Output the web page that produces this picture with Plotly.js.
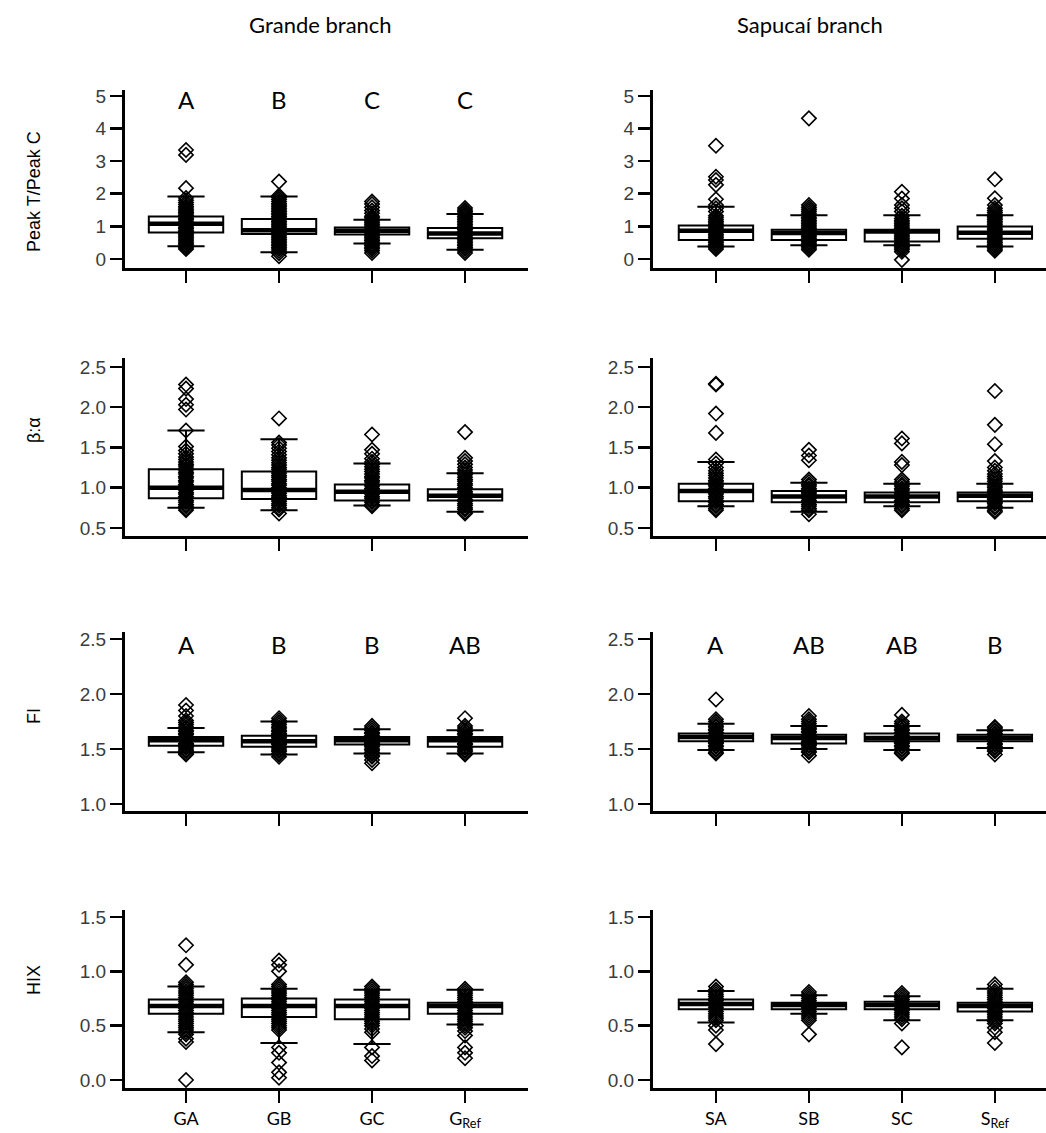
<!DOCTYPE html>
<html>
<head>
<meta charset="utf-8">
<script src="https://cdn.plot.ly/plotly-3.0.1.min.js"></script>
<style>html,body{margin:0;padding:0;background:#fff;}#chart{width:1046px;height:1133px;}</style>
</head>
<body>
<div id="chart"></div>
<script>
// ---------- categories ----------
const groupsG = ['GA', 'GB', 'GC', 'G<sub>Ref</sub>'];
const groupsS = ['SA', 'SB', 'SC', 'S<sub>Ref</sub>'];
const branchTitles = ['Grande branch', 'Sapucaí branch'];
const rowTitles = ['Peak T/Peak C', 'β:α', 'FI', 'HIX'];

// ---------- significance letters ----------
const lettersPeakG = ['A', 'B', 'C', 'C'];
const lettersBetaG = ['A', 'B', 'BC', 'C'];
const lettersFIG = ['A', 'B', 'B', 'AB'];
const lettersFIS = ['A', 'AB', 'AB', 'B'];

// ---------- Peak T / Peak C : Grande ----------
const peakG_q1 = [0.81, 0.76, 0.75, 0.63];
const peakG_med = [1.08, 0.88, 0.86, 0.78];
const peakG_q3 = [1.30, 1.22, 0.96, 0.95];
const peakG_lo = [0.39, 0.20, 0.47, 0.28];
const peakG_hi = [1.91, 1.91, 1.20, 1.38];
const peakG_GA = [0.30,0.34,0.39,0.43,0.48,0.52,0.57,0.61,0.66,0.70,0.75,0.79,0.84,0.88,0.93,0.97,1.02,1.06,1.11,1.15,1.20,1.24,1.29,1.33,1.38,1.42,1.47,1.51,1.56,1.61,1.67,1.73,1.80,1.87,2.17,3.19,3.34];
const peakG_GB = [0.08,0.17,0.24,0.30,0.35,0.40,0.45,0.50,0.55,0.60,0.65,0.70,0.75,0.80,0.85,0.90,0.95,1.00,1.05,1.10,1.15,1.20,1.25,1.30,1.35,1.40,1.45,1.50,1.55,1.60,1.65,1.70,1.76,1.82,1.88,1.94,2.37];
const peakG_GC = [0.18,0.25,0.31,0.36,0.41,0.46,0.51,0.56,0.61,0.66,0.71,0.76,0.81,0.86,0.91,0.96,1.01,1.06,1.11,1.16,1.21,1.26,1.31,1.40,1.48,1.58,1.68,1.76];
const peakG_GRef = [0.18,0.24,0.30,0.35,0.40,0.45,0.50,0.55,0.60,0.65,0.70,0.75,0.80,0.85,0.90,0.95,1.00,1.05,1.10,1.15,1.20,1.25,1.30,1.35,1.40,1.45,1.50,1.56];

// ---------- Peak T / Peak C : Sapucaí ----------
const peakS_q1 = [0.58, 0.58, 0.53, 0.62];
const peakS_med = [0.86, 0.79, 0.84, 0.80];
const peakS_q3 = [1.02, 0.89, 0.89, 0.99];
const peakS_lo = [0.38, 0.42, 0.42, 0.38];
const peakS_hi = [1.60, 1.34, 1.34, 1.34];
const peakS_SA = [0.30,0.35,0.40,0.45,0.50,0.55,0.60,0.65,0.70,0.75,0.80,0.85,0.90,0.95,1.00,1.05,1.10,1.15,1.20,1.26,1.32,1.45,1.55,1.65,1.83,2.27,2.42,2.52,3.47];
const peakS_SB = [0.28,0.33,0.38,0.43,0.48,0.53,0.58,0.63,0.68,0.73,0.78,0.83,0.88,0.93,0.98,1.03,1.08,1.13,1.18,1.23,1.28,1.34,1.40,1.46,1.52,1.58,1.65,4.31];
const peakS_SC = [-0.03,0.22,0.28,0.33,0.38,0.43,0.48,0.53,0.58,0.63,0.68,0.73,0.78,0.83,0.88,0.93,0.98,1.03,1.08,1.13,1.18,1.24,1.32,1.45,1.55,1.65,1.85,2.06];
const peakS_SRef = [0.25,0.30,0.35,0.40,0.45,0.50,0.55,0.60,0.65,0.70,0.75,0.80,0.85,0.90,0.95,1.00,1.05,1.10,1.15,1.20,1.25,1.30,1.36,1.42,1.48,1.55,1.65,1.86,2.44];

// ---------- β:α : Grande ----------
const betaG_q1 = [0.87, 0.86, 0.84, 0.84];
const betaG_med = [1.00, 0.97, 0.95, 0.90];
const betaG_q3 = [1.23, 1.20, 1.04, 0.98];
const betaG_lo = [0.75, 0.72, 0.78, 0.70];
const betaG_hi = [1.71, 1.60, 1.30, 1.18];
const betaG_GA = [0.72,0.74,0.77,0.79,0.82,0.84,0.87,0.89,0.92,0.94,0.97,0.99,1.02,1.04,1.07,1.09,1.12,1.14,1.17,1.19,1.22,1.24,1.27,1.29,1.32,1.35,1.38,1.42,1.46,1.51,1.71,1.97,2.03,2.10,2.23,2.28];
const betaG_GB = [0.68,0.73,0.75,0.78,0.80,0.83,0.85,0.88,0.90,0.93,0.95,0.98,1.00,1.03,1.05,1.08,1.10,1.13,1.15,1.18,1.20,1.23,1.25,1.28,1.31,1.34,1.37,1.41,1.45,1.49,1.53,1.56,1.86];
const betaG_GC = [0.77,0.79,0.82,0.84,0.87,0.89,0.92,0.94,0.97,0.99,1.02,1.04,1.07,1.09,1.12,1.14,1.17,1.20,1.23,1.26,1.29,1.32,1.36,1.42,1.47,1.66];
const betaG_GRef = [0.68,0.70,0.73,0.75,0.78,0.80,0.83,0.85,0.88,0.90,0.93,0.95,0.98,1.00,1.03,1.05,1.08,1.10,1.13,1.16,1.19,1.22,1.25,1.29,1.33,1.37,1.69];

// ---------- β:α : Sapucaí ----------
const betaS_q1 = [0.83, 0.82, 0.82, 0.83];
const betaS_med = [0.96, 0.89, 0.89, 0.90];
const betaS_q3 = [1.05, 0.96, 0.94, 0.94];
const betaS_lo = [0.77, 0.70, 0.77, 0.75];
const betaS_hi = [1.32, 1.06, 1.05, 1.05];
const betaS_SA = [0.72,0.74,0.77,0.79,0.82,0.84,0.87,0.89,0.92,0.94,0.97,0.99,1.02,1.04,1.07,1.09,1.12,1.15,1.18,1.21,1.25,1.30,1.35,1.68,1.92,2.28,2.29];
const betaS_SB = [0.67,0.72,0.74,0.77,0.79,0.82,0.84,0.87,0.89,0.92,0.94,0.97,0.99,1.02,1.04,1.07,1.10,1.34,1.40,1.47];
const betaS_SC = [0.72,0.74,0.77,0.79,0.82,0.84,0.87,0.89,0.92,0.94,0.97,0.99,1.02,1.04,1.07,1.10,1.28,1.32,1.55,1.61];
const betaS_SRef = [0.70,0.72,0.75,0.77,0.80,0.82,0.85,0.87,0.90,0.92,0.95,0.97,1.00,1.02,1.05,1.08,1.11,1.14,1.17,1.21,1.25,1.33,1.54,1.78,2.20];

// ---------- FI : Grande ----------
const fiG_q1 = [1.53, 1.52, 1.54, 1.52];
const fiG_med = [1.58, 1.57, 1.58, 1.58];
const fiG_q3 = [1.61, 1.62, 1.61, 1.61];
const fiG_lo = [1.47, 1.45, 1.46, 1.46];
const fiG_hi = [1.69, 1.75, 1.68, 1.67];
const fiG_GA = [1.45,1.46,1.48,1.49,1.51,1.52,1.54,1.55,1.57,1.58,1.60,1.61,1.63,1.64,1.66,1.67,1.69,1.70,1.72,1.74,1.76,1.80,1.85,1.90];
const fiG_GB = [1.43,1.45,1.46,1.48,1.49,1.51,1.52,1.54,1.55,1.57,1.58,1.60,1.61,1.63,1.64,1.66,1.67,1.69,1.70,1.72,1.74,1.76,1.78];
const fiG_GC = [1.37,1.40,1.43,1.44,1.46,1.47,1.49,1.50,1.52,1.53,1.55,1.56,1.58,1.59,1.61,1.62,1.64,1.65,1.67,1.69,1.71];
const fiG_GRef = [1.45,1.46,1.48,1.49,1.51,1.52,1.54,1.55,1.57,1.58,1.60,1.61,1.63,1.64,1.66,1.67,1.69,1.71,1.78];

// ---------- FI : Sapucaí ----------
const fiS_q1 = [1.57, 1.55, 1.57, 1.57];
const fiS_med = [1.61, 1.60, 1.60, 1.60];
const fiS_q3 = [1.64, 1.63, 1.64, 1.63];
const fiS_lo = [1.49, 1.50, 1.49, 1.51];
const fiS_hi = [1.73, 1.71, 1.71, 1.67];
const fiS_SA = [1.46,1.47,1.49,1.50,1.52,1.53,1.55,1.56,1.58,1.59,1.61,1.62,1.64,1.65,1.67,1.68,1.70,1.71,1.73,1.75,1.77,1.95];
const fiS_SB = [1.44,1.47,1.48,1.50,1.51,1.53,1.54,1.56,1.57,1.59,1.60,1.62,1.63,1.65,1.66,1.68,1.69,1.71,1.73,1.75,1.77,1.80];
const fiS_SC = [1.46,1.47,1.49,1.50,1.52,1.53,1.55,1.56,1.58,1.59,1.61,1.62,1.64,1.65,1.67,1.68,1.70,1.71,1.73,1.75,1.81];
const fiS_SRef = [1.45,1.48,1.49,1.51,1.52,1.54,1.55,1.57,1.58,1.60,1.61,1.63,1.64,1.66,1.67,1.69,1.70];

// ---------- HIX : Grande ----------
const hixG_q1 = [0.61, 0.58, 0.56, 0.61];
const hixG_med = [0.68, 0.68, 0.68, 0.68];
const hixG_q3 = [0.74, 0.75, 0.74, 0.71];
const hixG_lo = [0.44, 0.34, 0.33, 0.51];
const hixG_hi = [0.86, 0.84, 0.83, 0.83];
const hixG_GA = [0.00,0.35,0.38,0.42,0.44,0.46,0.48,0.50,0.52,0.54,0.56,0.58,0.60,0.62,0.64,0.66,0.68,0.70,0.72,0.74,0.76,0.78,0.80,0.82,0.84,0.86,0.88,0.90,1.06,1.24];
const hixG_GB = [0.02,0.07,0.16,0.25,0.30,0.46,0.48,0.50,0.52,0.54,0.56,0.58,0.60,0.62,0.64,0.66,0.68,0.70,0.72,0.74,0.76,0.78,0.80,0.82,0.84,0.86,0.88,1.00,1.06,1.10];
const hixG_GC = [0.18,0.22,0.30,0.44,0.47,0.50,0.52,0.54,0.56,0.58,0.60,0.62,0.64,0.66,0.68,0.70,0.72,0.74,0.76,0.78,0.80,0.82,0.84,0.86];
const hixG_GRef = [0.20,0.25,0.30,0.41,0.45,0.48,0.50,0.52,0.54,0.56,0.58,0.60,0.62,0.64,0.66,0.68,0.70,0.72,0.74,0.76,0.78,0.80,0.82,0.84];

// ---------- HIX : Sapucaí ----------
const hixS_q1 = [0.65, 0.65, 0.65, 0.63];
const hixS_med = [0.70, 0.69, 0.69, 0.68];
const hixS_q3 = [0.74, 0.71, 0.72, 0.71];
const hixS_lo = [0.53, 0.61, 0.55, 0.55];
const hixS_hi = [0.82, 0.78, 0.77, 0.84];
const hixS_SA = [0.33,0.46,0.50,0.55,0.57,0.59,0.61,0.63,0.65,0.67,0.69,0.71,0.73,0.75,0.77,0.79,0.81,0.83,0.86];
const hixS_SB = [0.42,0.55,0.57,0.59,0.61,0.63,0.65,0.67,0.69,0.71,0.73,0.75,0.77,0.79,0.81];
const hixS_SC = [0.30,0.52,0.56,0.58,0.60,0.62,0.64,0.66,0.68,0.70,0.72,0.74,0.76,0.78,0.80];
const hixS_SRef = [0.34,0.44,0.48,0.52,0.54,0.56,0.58,0.60,0.62,0.64,0.66,0.68,0.70,0.72,0.74,0.76,0.78,0.80,0.82,0.85,0.88];

// ---------- y tick values ----------
const ticksPeak = [0, 1, 2, 3, 4, 5];
const ticksBeta = [0.5, 1.0, 1.5, 2.0, 2.5];
const ticksFI = [1.0, 1.5, 2.0, 2.5];
const ticksHIX = [0.0, 0.5, 1.0, 1.5];

// ================= assembly =================
const W = 1046, H = 1133;
const panels = [
  {q1: peakG_q1, med: peakG_med, q3: peakG_q3, lo: peakG_lo, hi: peakG_hi, pts: [peakG_GA, peakG_GB, peakG_GC, peakG_GRef], letters: lettersPeakG},
  {q1: peakS_q1, med: peakS_med, q3: peakS_q3, lo: peakS_lo, hi: peakS_hi, pts: [peakS_SA, peakS_SB, peakS_SC, peakS_SRef], letters: null},
  {q1: betaG_q1, med: betaG_med, q3: betaG_q3, lo: betaG_lo, hi: betaG_hi, pts: [betaG_GA, betaG_GB, betaG_GC, betaG_GRef], letters: lettersBetaG},
  {q1: betaS_q1, med: betaS_med, q3: betaS_q3, lo: betaS_lo, hi: betaS_hi, pts: [betaS_SA, betaS_SB, betaS_SC, betaS_SRef], letters: null},
  {q1: fiG_q1, med: fiG_med, q3: fiG_q3, lo: fiG_lo, hi: fiG_hi, pts: [fiG_GA, fiG_GB, fiG_GC, fiG_GRef], letters: lettersFIG},
  {q1: fiS_q1, med: fiS_med, q3: fiS_q3, lo: fiS_lo, hi: fiS_hi, pts: [fiS_SA, fiS_SB, fiS_SC, fiS_SRef], letters: lettersFIS},
  {q1: hixG_q1, med: hixG_med, q3: hixG_q3, lo: hixG_lo, hi: hixG_hi, pts: [hixG_GA, hixG_GB, hixG_GC, hixG_GRef], letters: null},
  {q1: hixS_q1, med: hixS_med, q3: hixS_q3, lo: hixS_lo, hi: hixS_hi, pts: [hixS_SA, hixS_SB, hixS_SC, hixS_SRef], letters: null}
];
const rowTicks = [ticksPeak, ticksBeta, ticksFI, ticksHIX];
const rowFormat = ['d', '.1f', '.1f', '.1f'];
// layout geometry (pixels)
const rowPx = [[90, 268], [358, 536], [632, 811], [910, 1088]];
const rowRange = [[-0.28, 5.18], [0.40, 2.61], [0.936, 2.564], [-0.074, 1.565]];
const rowLetterY = [4.88, 2.62, 2.45, null];
const rowTitleY = [192, 430, 716, 980];
const colPx = [[125, 528], [653, 1046]];
const colRange = [[0.344, 4.677], [0.323, 4.55]];
const colTitleX = [320, 810];
const BOXW = 0.8;

const traces = [];
const layout = {
  width: W, height: H,
  margin: {l: 0, r: 0, t: 0, b: 0},
  paper_bgcolor: '#fff', plot_bgcolor: 'rgba(0,0,0,0)',
  showlegend: false,
  annotations: []
};
const pos = [1, 2, 3, 4];

panels.forEach((p, i) => {
  const r = Math.floor(i / 2), c = i % 2, k = i + 1;
  const sfx = (k === 1 ? '' : String(k));
  const xa = 'x' + sfx, ya = 'y' + sfx;
  // box
  traces.push({
    type: 'box', x: pos, q1: p.q1, median: p.med, q3: p.q3,
    lowerfence: p.lo, upperfence: p.hi,
    xaxis: xa, yaxis: ya, width: BOXW, whiskerwidth: 0.5,
    fillcolor: '#ffffff', line: {color: '#000', width: 2},
    boxpoints: false, hoverinfo: 'skip'
  });
  // thick medians
  const mx = [], my = [];
  p.med.forEach((m, g) => { mx.push(pos[g] - BOXW / 2, pos[g] + BOXW / 2, null); my.push(m, m, null); });
  traces.push({
    type: 'scatter', mode: 'lines', x: mx, y: my, xaxis: xa, yaxis: ya,
    line: {color: '#000', width: 4.5}, hoverinfo: 'skip'
  });
  // points
  const px = [], py = [];
  p.pts.forEach((arr, g) => arr.forEach(v => { px.push(pos[g]); py.push(v); }));
  traces.push({
    type: 'scatter', mode: 'markers', x: px, y: py, xaxis: xa, yaxis: ya,
    marker: {symbol: 'diamond-open', size: 11, color: '#000', line: {width: 1.6, color: '#000'}},
    hoverinfo: 'skip', cliponaxis: false
  });

  layout['xaxis' + sfx] = {
    domain: [colPx[c][0] / W, colPx[c][1] / W], range: colRange[c], anchor: ya,
    showline: true, linecolor: '#000', linewidth: 3, zeroline: false, showgrid: false,
    ticks: 'outside', ticklen: 12, tickwidth: 2, tickcolor: '#000',
    tickmode: 'array', tickvals: pos, ticktext: c === 0 ? groupsG : groupsS,
    showticklabels: r === 3,
    tickfont: {family: 'Lato, "Open Sans", sans-serif', size: 18, color: '#000'},
    fixedrange: true
  };
  layout['yaxis' + sfx] = {
    domain: [1 - rowPx[r][1] / H, 1 - rowPx[r][0] / H], range: rowRange[r], anchor: xa,
    showline: true, linecolor: '#000', linewidth: 3, zeroline: false, showgrid: false,
    ticks: 'outside', ticklen: 12, tickwidth: 2.5, tickcolor: '#000',
    tickmode: 'array', tickvals: rowTicks[r], tickformat: rowFormat[r],
    tickfont: {family: '"Liberation Sans", Arial, sans-serif', size: 19, color: '#3c3c3c'},
    fixedrange: true
  };

  if (p.letters) {
    p.letters.forEach((t, g) => layout.annotations.push({
      xref: xa, yref: ya, x: pos[g], y: rowLetterY[r], text: t, showarrow: false,
      xanchor: 'center', yanchor: 'middle',
      font: {family: 'Lato, "Open Sans", sans-serif', size: 24, color: '#000'}
    }));
  }
});

rowTitles.forEach((t, r) => layout.annotations.push({
  xref: 'paper', yref: 'paper', x: 34 / W, y: 1 - rowTitleY[r] / H, text: t, textangle: -90,
  xanchor: 'center', yanchor: 'middle',
  showarrow: false, font: {family: '"Liberation Sans", Arial, sans-serif', size: 18, color: '#000'}
}));
branchTitles.forEach((t, c) => layout.annotations.push({
  xref: 'paper', yref: 'paper', x: colTitleX[c] / W, y: 1 - 25 / H, text: t,
  xanchor: 'center', yanchor: 'middle',
  showarrow: false, font: {family: 'Lato, "Open Sans", sans-serif', size: 22, color: '#000'}
}));

Plotly.newPlot('chart', traces, layout, {staticPlot: true, displayModeBar: false});
</script>
</body>
</html>
